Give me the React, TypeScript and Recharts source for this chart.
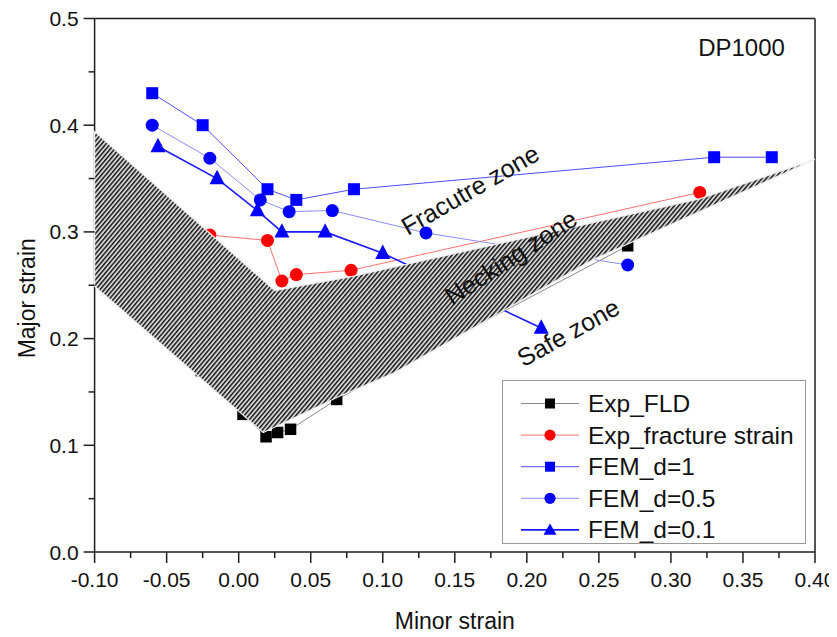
import React from 'react';
import { ScatterChart, Scatter, XAxis, YAxis, ReferenceLine, ReferenceDot, Legend } from 'recharts';

// ---- data ----
const fldX = [-0.026, 0.003, 0.019, 0.027, 0.036, 0.068, 0.27];
const fldY = [0.17, 0.129, 0.108, 0.112, 0.115, 0.143, 0.287];
const fracX = [-0.02, 0.02, 0.03, 0.04, 0.078, 0.32];
const fracY = [0.297, 0.292, 0.254, 0.26, 0.264, 0.337];
const d1X = [-0.06, -0.025, 0.02, 0.04, 0.08, 0.33, 0.37];
const d1Y = [0.43, 0.4, 0.34, 0.33, 0.34, 0.37, 0.37];
const d05X = [-0.06, -0.02, 0.015, 0.035, 0.065, 0.13, 0.27];
const d05Y = [0.4, 0.369, 0.33, 0.319, 0.32, 0.299, 0.269];
const d01X = [-0.056, -0.015, 0.013, 0.03, 0.06, 0.1, 0.21];
const d01Y = [0.38, 0.35, 0.32, 0.3, 0.3, 0.28, 0.21];
// necking band (hatched polygon outline)
const zoneX = [-0.1, 0.025, 0.078, 0.32, 0.4, 0.246, 0.108, 0.07, 0.017, -0.1];
const zoneY = [0.394, 0.245, 0.258, 0.331, 0.368, 0.274, 0.168, 0.146, 0.112, 0.249];

const seriesNames = ['Exp_FLD', 'Exp_fracture strain', 'FEM_d=1', 'FEM_d=0.5', 'FEM_d=0.1'];

const xTicks = [-0.1, -0.075, -0.05, -0.025, 0, 0.025, 0.05, 0.075, 0.1, 0.125, 0.15, 0.175, 0.2, 0.225, 0.25, 0.275, 0.3, 0.325, 0.35, 0.375, 0.4];
const xLabelTicks = [-0.1, -0.05, 0, 0.05, 0.1, 0.15, 0.2, 0.25, 0.3, 0.35, 0.4];
const yTicks = [0, 0.05, 0.1, 0.15, 0.2, 0.25, 0.3, 0.35, 0.4, 0.45, 0.5];
const yLabelTicks = [0, 0.1, 0.2, 0.3, 0.4, 0.5];

const annotText = ['DP1000', 'Fracutre zone', 'Necking zone', 'Safe zone'];
const annotX = [0.349, 0.1605, 0.1889, 0.2287];
const annotY = [0.473, 0.3396, 0.2763, 0.2059];
const annotAngle = [0, -30, -33, -29];
const annotSize = [24, 25, 25, 25];

const zip = (xs: number[], ys: number[]) => xs.map((x, i) => ({ x, y: ys[i] }));
const fldData = zip(fldX, fldY);
const fracData = zip(fracX, fracY);
const d1Data = zip(d1X, d1Y);
const d05Data = zip(d05X, d05Y);
const d01Data = zip(d01X, d01Y);
const zoneData = zip(zoneX, zoneY);

const FONT = '"Liberation Sans", Arial, sans-serif';
const AX = '#1e1e1e';

const has = (arr: number[], v: number) => arr.some((t) => Math.abs(t - v) < 1e-9);

const XTick = (props: any) => {
  const { x, y, payload } = props;
  const v = payload.value as number;
  const major = has(xLabelTicks, v);
  return (
    <g>
      <line x1={x} x2={x} y1={y} y2={y + (major ? 11 : 6)} stroke={AX} strokeWidth={1.5} />
      {major && (
        <text x={x} y={y + 27} textAnchor="middle" dominantBaseline="central" fontFamily={FONT} fontSize={21} fill="#111">
          {v.toFixed(2)}
        </text>
      )}
    </g>
  );
};

const YTick = (props: any) => {
  const { x, y, payload } = props;
  const v = payload.value as number;
  const major = has(yLabelTicks, v);
  return (
    <g>
      <line x1={x} x2={x - (major ? 11 : 6)} y1={y} y2={y} stroke={AX} strokeWidth={1.5} />
      {major && (
        <text x={x - 16} y={y} textAnchor="end" dominantBaseline="central" fontFamily={FONT} fontSize={21} fill="#111">
          {v.toFixed(1)}
        </text>
      )}
    </g>
  );
};

const sq = (color: string, s: number) => (p: any) => (
  <rect x={p.cx - s / 2} y={p.cy - s / 2} width={s} height={s} fill={color} />
);
const ci = (color: string, r: number) => (p: any) => <circle cx={p.cx} cy={p.cy} r={r} fill={color} />;
const tri = (color: string, w: number) => (p: any) => (
  <polygon
    points={`${p.cx},${p.cy - w * 0.58} ${p.cx + w / 2},${p.cy + w * 0.38} ${p.cx - w / 2},${p.cy + w * 0.38}`}
    fill={color}
  />
);
const none = () => <g />;

const hatchPolygon = (props: any) => {
  const pts = (props.points || []) as { x: number; y: number }[];
  const s = pts.map((p) => `${p.x},${p.y}`).join(' ');
  return (
    <g>
      <defs>
        <pattern id="neckHatch" width={3.3} height={3.3} patternUnits="userSpaceOnUse" patternTransform="rotate(40)">
          <rect x={0} y={0} width={3.3} height={3.3} fill="#d4d4d4" />
          <line x1={0.7} y1={0} x2={0.7} y2={3.3} stroke="#111" strokeWidth={1.4} />
        </pattern>
      </defs>
      <polygon points={s} fill="url(#neckHatch)" stroke="#eeeeee" strokeWidth={1.2} />
    </g>
  );
};

const legendRows = [
  { line: '#888888', lw: 1, marker: 'square', color: '#000000' },
  { line: '#ff7070', lw: 1, marker: 'circle', color: '#ff0000' },
  { line: '#4d4dff', lw: 1, marker: 'square', color: '#0000ff' },
  { line: '#8c8cff', lw: 1, marker: 'circle', color: '#0000ff' },
  { line: '#1a1aff', lw: 1.6, marker: 'triangle', color: '#0000ff' },
];

const LegendBox = () => (
  <svg width={304} height={164} style={{ display: 'block' }}>
    <rect x={0.5} y={0.5} width={303} height={163} fill="#ffffff" stroke="#9a9a9a" strokeWidth={1} />
    {seriesNames.map((name, i) => {
      const cy = 23.5 + i * 31.6;
      const r = legendRows[i];
      let m: React.ReactNode = null;
      if (r.marker === 'square') m = <rect x={48 - 5} y={cy - 5} width={10} height={10} fill={r.color} />;
      else if (r.marker === 'circle') m = <circle cx={48} cy={cy} r={5.6} fill={r.color} />;
      else m = <polygon points={`48,${cy - 6.5} 54.5,${cy + 4.8} 41.5,${cy + 4.8}`} fill={r.color} />;
      return (
        <g key={name}>
          <line x1={19} x2={77} y1={cy} y2={cy} stroke={r.line} strokeWidth={r.lw} />
          {m}
          <text x={86} y={cy} dominantBaseline="central" fontFamily={FONT} fontSize={24.5} fill="#111">
            {name}
          </text>
        </g>
      );
    })}
  </svg>
);

export default function App() {
  return (
    <ScatterChart width={829} height={629} margin={{ top: 10.5, right: 22, bottom: 0, left: 0 }}>
      <XAxis
        type="number"
        dataKey="x"
        domain={[-0.1, 0.4]}
        ticks={xTicks}
        interval={0}
        tickSize={0}
        tickMargin={0}
        tickLine={false}
        tick={<XTick />}
        height={85}
        axisLine={{ stroke: AX, strokeWidth: 1.5 }}
        label={{
          content: (p: any) => {
            const vb = p.viewBox;
            return (
              <text x={vb.x + vb.width / 2} y={vb.y + 69} textAnchor="middle" dominantBaseline="central" fontFamily={FONT} fontSize={23} fill="#111">
                Minor strain
              </text>
            );
          },
        }}
      />
      <YAxis
        type="number"
        dataKey="y"
        domain={[0, 0.5]}
        ticks={yTicks}
        interval={0}
        tickSize={0}
        tickMargin={0}
        tickLine={false}
        tick={<YTick />}
        width={86.6}
        axisLine={{ stroke: AX, strokeWidth: 1.5 }}
        label={{
          content: (p: any) => {
            const vb = p.viewBox;
            const cx = 19;
            const cy = vb.y + vb.height / 2 + 13;
            return (
              <text x={cx} y={cy} transform={`rotate(-90 ${cx} ${cy})`} textAnchor="middle" dominantBaseline="central" fontFamily={FONT} fontSize={23} fill="#111">
                Major strain
              </text>
            );
          },
        }}
      />
      <ReferenceLine y={0.5} stroke={AX} strokeWidth={1.5} />
      <ReferenceLine x={0.4} stroke={AX} strokeWidth={1.5} />

      <Scatter name={seriesNames[0]} data={fldData} fill="#000" line={{ stroke: '#888888', strokeWidth: 1 }} shape={sq('#000000', 11.5)} isAnimationActive={false} />
      <Scatter name={seriesNames[1]} data={fracData} fill="#f00" line={{ stroke: '#ff7070', strokeWidth: 1 }} shape={ci('#ff0000', 6.5)} isAnimationActive={false} />
      <Scatter name={seriesNames[2]} data={d1Data} fill="#00f" line={{ stroke: '#4d4dff', strokeWidth: 1 }} shape={sq('#0000ff', 12)} isAnimationActive={false} />
      <Scatter name={seriesNames[3]} data={d05Data} fill="#00f" line={{ stroke: '#8c8cff', strokeWidth: 1 }} shape={ci('#0000ff', 6.5)} isAnimationActive={false} />
      <Scatter name={seriesNames[4]} data={d01Data} fill="#00f" line={{ stroke: '#1a1aff', strokeWidth: 1.6 }} shape={tri('#0000ff', 15)} isAnimationActive={false} />
      <Scatter name="zone" data={zoneData} fill="#000" line={hatchPolygon} shape={none} legendType="none" isAnimationActive={false} />

      {annotText.map((t, i) => (
        <ReferenceDot
          key={t}
          x={annotX[i]}
          y={annotY[i]}
          r={0}
          shape={(p: any) => (
            <text
              x={p.cx}
              y={p.cy}
              transform={`rotate(${annotAngle[i]} ${p.cx} ${p.cy})`}
              textAnchor="middle"
              dominantBaseline="central"
              fontFamily={FONT}
              fontSize={annotSize[i]}
              fill="#111"
            >
              {t}
            </text>
          )}
        />
      ))}

      <Legend
        layout="vertical"
        align="center"
        verticalAlign="middle"
        content={() => <LegendBox />}
        wrapperStyle={{ position: 'absolute', left: 494, top: 372, width: 304, height: 164 }}
      />
    </ScatterChart>
  );
}
